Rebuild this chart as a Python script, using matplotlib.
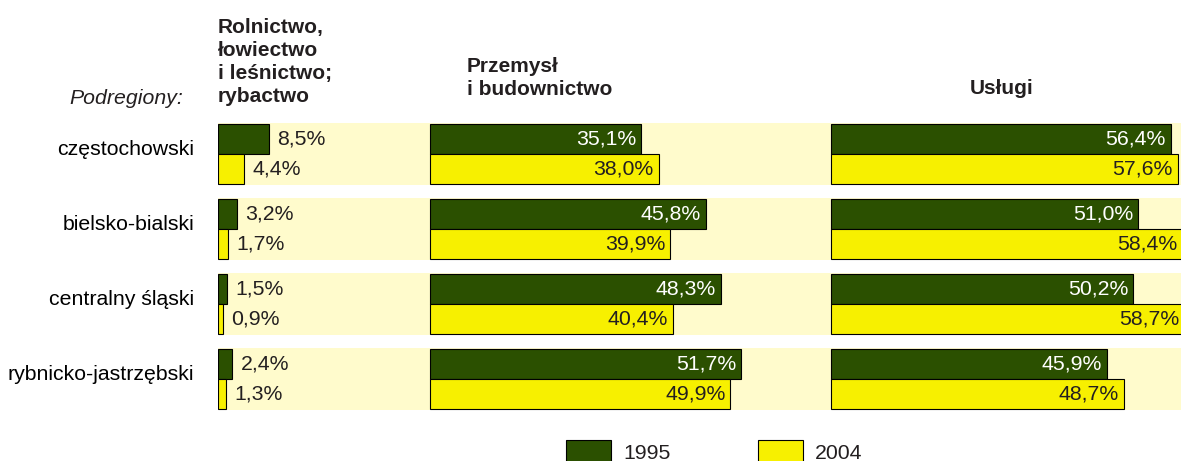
import matplotlib
matplotlib.use("Agg")
import matplotlib.pyplot as plt
from matplotlib.patches import Rectangle

# data
regions = ["częstochowski", "bielsko-bialski", "centralny śląski", "rybnicko-jastrzębski"]
sectors = ["Rolnictwo,\nłowiectwo\ni leśnictwo;\nrybactwo", "Przemysł\ni budownictwo", "Usługi"]
years = ["1995", "2004"]
agri_1995 = [8.5, 3.2, 1.5, 2.4]
agri_2004 = [4.4, 1.7, 0.9, 1.3]
ind_1995 = [35.1, 45.8, 48.3, 51.7]
ind_2004 = [38.0, 39.9, 40.4, 49.9]
serv_1995 = [56.4, 51.0, 50.2, 45.9]
serv_2004 = [57.6, 58.4, 58.7, 48.7]

# colors
darkGreen = "#2b5000"
yellow = "#f7f000"
bandColor = "#fffbcc"
textColor = "#231f20"

plt.rcParams["font.family"] = ["Liberation Sans", "DejaVu Sans"]
fs = 15.3

W, H = 1181, 461
fig = plt.figure(figsize=(W / 100, H / 100), dpi=100)

def fx(px):
    return px / W

def fy(py):
    return 1 - py / H

# axes: x in percent units, 218px .. 1181px
ax = fig.add_axes([fx(218), fy(416.5), fx(W - 218), (300) / H])
xmax = (W - 218) / 6.02
offsets = [0, 212 / 6.02, 613 / 6.02]
ax.set_xlim(0, xmax)
ax.set_ylim(3.5, -0.5)
ax.axis("off")

ypos = list(range(len(regions)))
barH = 0.4

# light background bands
ax.barh(ypos, [xmax] * 4, height=2 * barH + 0.02, left=0, color=bandColor, edgecolor="none", zorder=0)

panels = [(agri_1995, agri_2004), (ind_1995, ind_2004), (serv_1995, serv_2004)]
for p, (v95, v04) in enumerate(panels):
    off = offsets[p]
    ax.barh([y - barH / 2 for y in ypos], v95, height=barH, left=off,
            color=darkGreen, edgecolor="black", linewidth=0.8, zorder=2)
    ax.barh([y + barH / 2 for y in ypos], v04, height=barH, left=off,
            color=yellow, edgecolor="black", linewidth=0.8, zorder=2)
    for y, a, b in zip(ypos, v95, v04):
        for yy, val, col in [(y - barH / 2, a, "white"), (y + barH / 2, b, textColor)]:
            txt = f"{val:.1f}%".replace(".", ",")
            if p == 0:
                ax.annotate(txt, (off + val, yy), xytext=(5.8, 0), textcoords="offset points",
                            ha="left", va="center", fontsize=fs, color=textColor, zorder=3,
                            annotation_clip=False)
            else:
                ax.annotate(txt, (off + val, yy), xytext=(-3.6, 0), textcoords="offset points",
                            ha="right", va="center", fontsize=fs, color=col, zorder=3,
                            annotation_clip=False)

# region labels
for y, r in zip(ypos, regions):
    ax.annotate(r, (0, y), xytext=(-17, 3.5), textcoords="offset points",
                ha="right", va="center", fontsize=fs, color="black")

# headers
fig.text(fx(218), fy(106), sectors[0], ha="left", va="bottom", fontsize=15,
         fontweight="bold", color=textColor, linespacing=1.27)
fig.text(fx(467), fy(99), sectors[1], ha="left", va="bottom", fontsize=15,
         fontweight="bold", color=textColor, linespacing=1.27)
fig.text(fx(970), fy(98), sectors[2], ha="left", va="bottom", fontsize=15,
         fontweight="bold", color=textColor)
fig.text(fx(183), fy(108), "Podregiony:", ha="right", va="bottom", fontsize=fs,
         style="italic", color=textColor)

# legend (partly cut at bottom edge)
for x0, col, lab in [(566, darkGreen, years[0]), (758, yellow, years[1])]:
    fig.patches.append(Rectangle((fx(x0), fy(470)), 45 / W, 30 / H, transform=fig.transFigure,
                                 facecolor=col, edgecolor="black", linewidth=0.8))
    fig.text(fx(x0 + 57), fy(444), lab, ha="left", va="top", fontsize=fs, color=textColor)

fig.savefig("out.png", dpi=100)
